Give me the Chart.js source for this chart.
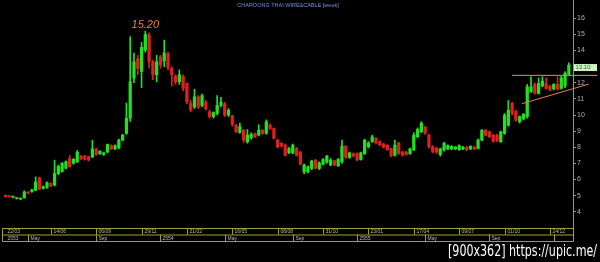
<!DOCTYPE html>
<html>
<head>
<meta charset="utf-8">
<script src="https://cdn.jsdelivr.net/npm/chart.js@4.4.1/dist/chart.umd.min.js"></script>
<style>
html, body { margin: 0; padding: 0; background: #000; }
#wrap { position: relative; width: 600px; height: 262px; }
</style>
</head>
<body>
<div id="wrap"><canvas id="chart" width="600" height="262"></canvas></div>
<script>
const chartTitle = 'CHAROONG THAI WIRE&CABLE [week]';
const watermark = '[900x362] https://upic.me/';

// weekly candles, one per week starting 22/03/2553
const openP = [
    5.0, 4.97, 4.9, 4.82, 4.78, 4.86, 5.22, 5.25, 5.33, 6.1,
    5.45, 5.5, 5.75, 5.65, 6.37, 6.5, 6.7, 7.3, 7.0, 7.1,
    7.45, 7.45, 7.4, 7.4, 7.88, 7.6, 7.55, 7.7, 8.1, 7.9,
    7.96, 8.44, 8.86, 9.8, 12.3, 13.5, 12.7, 14.03, 14.96, 13.3,
    12.5, 13.6, 13.35, 13.8, 12.9, 12.4, 12.06, 12.4, 11.96, 10.74,
    10.5, 11.13, 10.6, 10.8, 10.2, 9.9, 10.1, 10.6, 10.7, 10.0,
    9.95, 9.37, 8.92, 9.06, 8.33, 8.58, 8.84, 8.75, 9.06, 8.86,
    9.37, 9.17, 8.44, 8.24, 8.13, 7.65, 7.65, 7.92, 7.7, 6.47,
    6.47, 6.68, 7.2, 6.68, 6.95, 7.1, 6.9, 7.17, 6.86, 7.1,
    8.07, 7.37, 7.6, 7.6, 7.24, 7.6, 8.03, 8.35, 8.55, 8.35,
    8.2, 8.13, 7.92, 7.5, 8.27, 7.7, 7.7, 7.6, 7.82, 8.65,
    8.96, 9.27, 8.75, 8.03, 7.95, 7.55, 7.82, 7.9, 7.9, 7.9,
    7.85, 7.9, 8.0, 7.9, 8.0, 7.92, 8.44, 9.06, 8.96, 8.75,
    8.75, 8.34, 8.86, 9.37, 10.72, 10.24, 9.58, 9.75, 9.89, 11.44,
    11.9, 11.34, 11.8, 11.96, 11.8, 11.62, 11.9, 11.65, 11.8, 12.52
];
const highP = [
    5.05, 5.0, 4.97, 4.86, 4.85, 5.3, 5.25, 5.4, 6.16, 6.15,
    5.6, 5.85, 5.8, 7.2, 6.9, 7.05, 7.15, 7.5, 7.3, 7.8,
    7.5, 7.5, 7.45, 8.44, 7.95, 7.8, 7.7, 8.2, 8.15, 8.15,
    8.5, 8.8, 10.74, 14.86, 13.84, 13.7, 14.5, 15.2, 15.1, 13.4,
    13.7, 13.7, 14.65, 13.9, 13.0, 12.5, 12.8, 12.5, 12.0, 10.9,
    11.6, 11.2, 11.3, 10.9, 10.3, 10.2, 11.2, 11.1, 10.8, 10.4,
    10.0, 9.4, 9.5, 9.1, 9.1, 8.9, 8.9, 9.4, 9.1, 9.7,
    9.45, 9.2, 8.5, 8.3, 8.2, 8.0, 8.2, 8.0, 7.75, 6.95,
    6.85, 7.2, 7.25, 7.1, 7.3, 7.5, 7.3, 7.2, 7.3, 8.44,
    8.1, 7.7, 7.65, 7.65, 7.7, 8.5, 8.35, 8.75, 8.6, 8.4,
    8.25, 8.15, 7.95, 8.44, 8.3, 7.75, 7.75, 7.95, 8.9, 9.2,
    9.6, 9.3, 8.8, 8.1, 8.0, 7.95, 8.3, 8.15, 8.1, 8.05,
    8.15, 8.05, 8.05, 8.1, 8.05, 8.5, 9.1, 9.1, 9.0, 8.8,
    8.8, 9.0, 10.1, 10.9, 10.8, 10.3, 9.95, 10.1, 11.9, 12.37,
    12.0, 12.3, 12.37, 12.3, 11.85, 11.95, 12.37, 12.4, 12.7, 13.23
];
const lowP = [
    4.9, 4.9, 4.85, 4.78, 4.75, 4.84, 5.1, 5.2, 5.3, 5.35,
    5.4, 5.45, 5.55, 5.6, 6.3, 6.45, 6.65, 6.75, 6.95, 7.05,
    7.25, 7.2, 7.15, 7.35, 7.5, 7.55, 7.5, 7.65, 7.85, 7.85,
    7.9, 8.4, 8.8, 9.6, 12.0, 12.5, 11.7, 13.9, 12.9, 12.2,
    12.06, 12.9, 13.0, 12.8, 11.8, 11.9, 11.9, 11.5, 10.7, 10.2,
    10.4, 10.4, 10.5, 10.3, 9.8, 9.8, 10.0, 10.5, 9.9, 9.9,
    9.3, 8.9, 8.85, 8.3, 8.25, 8.5, 8.6, 8.7, 8.8, 8.8,
    9.1, 8.5, 7.95, 8.0, 7.45, 7.6, 7.6, 7.45, 6.9, 6.35,
    6.4, 6.6, 6.65, 6.6, 6.9, 7.0, 6.85, 6.85, 6.8, 7.0,
    7.3, 7.3, 7.4, 7.15, 7.2, 7.55, 7.95, 8.3, 8.2, 8.1,
    7.95, 7.8, 7.4, 7.45, 7.55, 7.45, 7.5, 7.55, 7.8, 8.6,
    8.9, 8.8, 7.95, 7.65, 7.6, 7.45, 7.75, 7.85, 7.85, 7.85,
    7.8, 7.85, 7.8, 7.85, 7.85, 7.9, 8.4, 8.7, 8.6, 8.3,
    8.35, 8.3, 8.8, 9.3, 10.0, 9.6, 9.5, 9.7, 9.8, 11.4,
    11.3, 11.3, 11.75, 11.6, 11.5, 11.55, 11.55, 11.6, 11.7, 12.48
];
const closeP = [
    4.95, 4.93, 4.93, 4.84, 4.82, 5.23, 5.15, 5.35, 5.85, 5.4,
    5.55, 5.8, 5.6, 6.37, 6.8, 7.0, 7.1, 6.8, 7.25, 7.7,
    7.27, 7.25, 7.2, 7.9, 7.55, 7.75, 7.65, 8.17, 7.9, 8.1,
    8.44, 8.75, 9.8, 12.06, 13.3, 12.9, 14.2, 15.0, 13.3, 12.5,
    13.3, 13.1, 13.85, 12.95, 12.5, 12.06, 12.5, 11.65, 10.82, 10.3,
    11.13, 10.5, 11.2, 10.4, 9.9, 10.15, 10.6, 10.8, 10.0, 10.3,
    9.42, 8.96, 9.27, 8.44, 8.75, 8.8, 8.65, 9.06, 8.86, 9.58,
    9.17, 8.55, 8.03, 8.07, 7.5, 7.92, 8.13, 7.5, 6.95, 6.9,
    6.78, 7.15, 6.7, 7.03, 7.24, 7.45, 7.2, 6.9, 7.24, 8.07,
    7.37, 7.65, 7.45, 7.2, 7.65, 8.44, 8.27, 8.65, 8.27, 8.15,
    8.0, 7.86, 7.45, 8.13, 7.6, 7.5, 7.55, 7.9, 8.75, 9.1,
    9.48, 8.86, 8.03, 7.7, 7.7, 7.88, 8.24, 8.1, 8.05, 8.0,
    8.1, 8.0, 7.85, 8.05, 7.9, 8.44, 9.06, 8.75, 8.65, 8.38,
    8.4, 8.96, 9.99, 10.3, 10.1, 9.68, 9.89, 10.04, 11.75, 11.75,
    11.34, 11.96, 12.1, 11.65, 11.55, 11.9, 11.6, 12.3, 12.6, 13.1
];

// y axis ticks
const yTicks = [4, 5, 6, 7, 8, 9, 10, 11, 12, 13, 14, 15, 16];

// date rows under the chart: candle index where each label starts
const weekTickIdx = [0, 12, 24, 36, 48, 60, 72, 84, 96, 108, 120, 132, 144];
const weekTickLabels = ['22/03', '14/06', '06/09', '29/11', '21/02', '16/05', '08/08', '31/10', '23/01', '17/04', '09/07', '01/10', '24/12'];
const monthTickIdx = [0, 6, 24, 41, 58, 76, 93, 111, 128, 145];
const monthTickLabels = ['2553', 'May', 'Sep', '2554', 'May', 'Sep', '2555', 'May', 'Sep', ''];

// trend lines drawn on the chart: [candle index, price]
const resistanceLine = [[134, 12.46], [156.5, 12.46]];
const supportLine = [[136.6, 10.7], [154.3, 11.92]];

const UP = '#22e022';
const DOWN = '#e02020';
const OLIVE = '#a0a030';

const idx = closeP.map((_, i) => i);
const candleColors = closeP.map((c, i) => c >= openP[i] ? UP : DOWN);
const bodies = idx.map(i => ({ x: i, y: [openP[i], closeP[i]] }));
const wicks = idx.map(i => ({ x: i, y: [lowP[i], highP[i]] }));

const overlay = {
    id: 'overlay',
    afterDraw(chart) {
        const { ctx, chartArea } = chart;
        const x = chart.scales.x;
        const y = chart.scales.y;
        const fontFamily = '"Liberation Sans", Arial, sans-serif';
        ctx.save();

        // title
        ctx.font = '5.5px ' + fontFamily;
        ctx.fillStyle = '#7090d8';
        ctx.textAlign = 'center';
        ctx.textBaseline = 'middle';
        ctx.fillText(chartTitle, 288, 5.5);

        // highest price label
        const peak = highP.indexOf(Math.max(...highP));
        ctx.font = 'italic 11px ' + fontFamily;
        ctx.fillStyle = '#e8803a';
        ctx.textBaseline = 'bottom';
        ctx.fillText(highP[peak].toFixed(2), x.getPixelForValue(peak), y.getPixelForValue(highP[peak]) - 1);

        // trend lines
        ctx.lineWidth = 1;
        [[resistanceLine, '#d8945c'], [supportLine, '#e0805a']].forEach(([pts, col]) => {
            ctx.strokeStyle = col;
            ctx.beginPath();
            ctx.moveTo(x.getPixelForValue(pts[0][0]), y.getPixelForValue(pts[0][1]));
            ctx.lineTo(x.getPixelForValue(pts[1][0]), y.getPixelForValue(pts[1][1]));
            ctx.stroke();
        });

        // last price box
        const last = closeP[closeP.length - 1];
        const py = y.getPixelForValue(last);
        ctx.fillStyle = '#ccf5c0';
        ctx.fillRect(chartArea.right + 1, py - 1, 23, 7);
        ctx.font = '6px ' + fontFamily;
        ctx.fillStyle = '#505050';
        ctx.textAlign = 'left';
        ctx.textBaseline = 'middle';
        ctx.fillText(last.toFixed(2), chartArea.right + 2.5, py + 2.5);

        // date rows
        const left = 2, right = chartArea.right;
        const top = chartArea.bottom, mid = top + 6.5, bottom = top + 13;
        ctx.strokeStyle = OLIVE;
        ctx.beginPath();
        ctx.rect(left + 0.5, top + 0.5, right - left, bottom - top);
        ctx.moveTo(left, mid + 0.5);
        ctx.lineTo(right, mid + 0.5);
        ctx.moveTo(right + 0.5, 0);
        ctx.lineTo(right + 0.5, bottom + 0.5);
        ctx.stroke();

        ctx.font = '5px ' + fontFamily;
        ctx.fillStyle = '#b8b8b8';
        const drawRow = (ids, labels, y0, y1) => {
            ids.forEach((id, k) => {
                const px = Math.round(x.getPixelForValue(id)) + 0.5;
                if (px > left + 4) {
                    ctx.beginPath();
                    ctx.moveTo(px, y0);
                    ctx.lineTo(px, y1);
                    ctx.stroke();
                }
                ctx.fillText(labels[k], Math.max(px, left) + 2, (y0 + y1) / 2 + 0.5);
            });
        };
        drawRow(weekTickIdx, weekTickLabels, top, mid);
        drawRow(monthTickIdx, monthTickLabels, mid, bottom);

        // watermark
        ctx.font = '16px "DejaVu Sans", sans-serif';
        ctx.fillStyle = '#ffffff';
        ctx.textAlign = 'left';
        ctx.textBaseline = 'alphabetic';
        const w = ctx.measureText(watermark).width;
        ctx.translate(448, 256);
        ctx.scale(149 / w, 1);
        ctx.fillText(watermark, 0, 0);

        ctx.restore();
    }
};

new Chart(document.getElementById('chart'), {
    type: 'bar',
    data: {
        datasets: [{
            label: 'body',
            data: bodies,
            backgroundColor: candleColors,
            barThickness: 2.6,
            minBarLength: 1,
            grouped: false
        }, {
            label: 'wick',
            data: wicks,
            backgroundColor: candleColors,
            barThickness: 1,
            grouped: false
        }]
    },
    options: {
        responsive: false,
        animation: false,
        events: [],
        layout: { padding: { left: 2, top: 0, right: 0, bottom: 34 } },
        plugins: { legend: { display: false }, tooltip: { enabled: false } },
        scales: {
            x: {
                type: 'linear',
                min: -0.9,
                max: 150.1,
                offset: false,
                display: false
            },
            y: {
                position: 'right',
                min: 2.99,
                max: 17.135,
                afterBuildTicks: scale => { scale.ticks = yTicks.map(v => ({ value: v })); },
                afterFit: scale => {
                    scale.width = 27;
                    scale.paddingTop = 0;
                    scale.paddingBottom = 0;
                },
                grid: { drawOnChartArea: false, color: OLIVE, tickLength: 3 },
                border: { color: OLIVE },
                ticks: {
                    color: '#b0b0b0',
                    padding: 1,
                    font: { size: 7, family: '"Liberation Sans", Arial, sans-serif' }
                }
            }
        }
    },
    plugins: [overlay]
});
</script>
</body>
</html>
